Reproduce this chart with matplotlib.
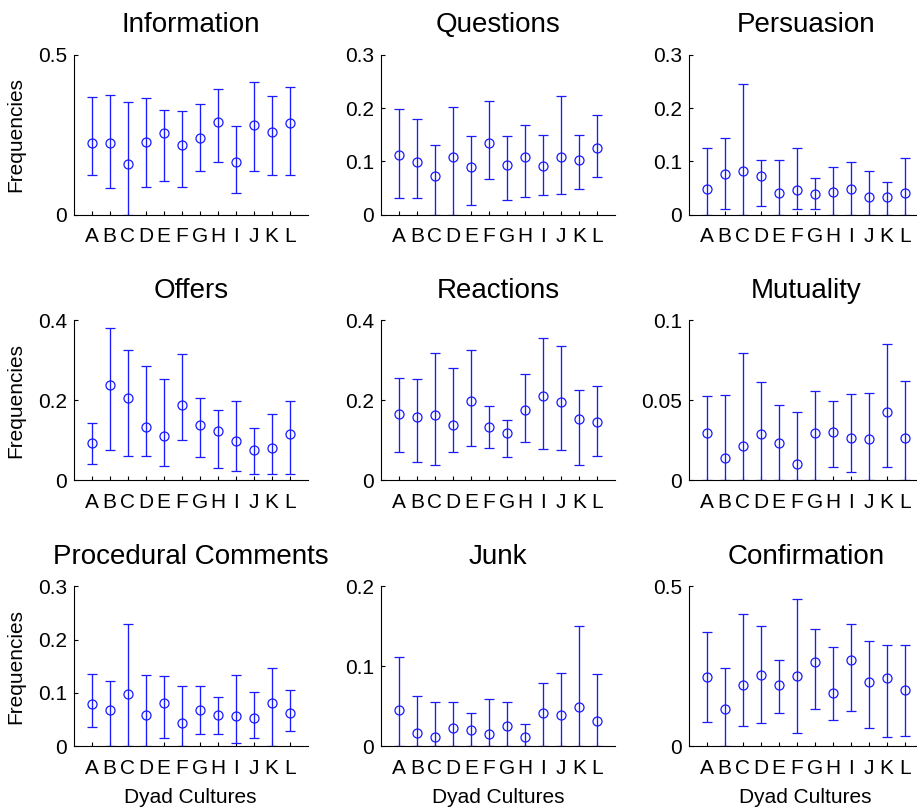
import numpy as np
import matplotlib
matplotlib.use('Agg')
import matplotlib.pyplot as plt

plt.rcParams['font.family'] = ['Liberation Sans', 'DejaVu Sans']

cultures = ['A', 'B', 'C', 'D', 'E', 'F', 'G', 'H', 'I', 'J', 'K', 'L']
titles = ['Information', 'Questions', 'Persuasion',
          'Offers', 'Reactions', 'Mutuality',
          'Procedural Comments', 'Junk', 'Confirmation']
ymax = [0.5, 0.3, 0.3, 0.4, 0.4, 0.1, 0.3, 0.2, 0.5]
yticks = [[0, 0.5], [0, 0.1, 0.2, 0.3], [0, 0.1, 0.2, 0.3],
          [0, 0.2, 0.4], [0, 0.2, 0.4], [0, 0.05, 0.1],
          [0, 0.1, 0.2, 0.3], [0, 0.1, 0.2], [0, 0.5]]
yticklabels = [['0', '0.5'], ['0', '0.1', '0.2', '0.3'], ['0', '0.1', '0.2', '0.3'],
               ['0', '0.2', '0.4'], ['0', '0.2', '0.4'], ['0', '0.05', '0.1'],
               ['0', '0.1', '0.2', '0.3'], ['0', '0.1', '0.2'], ['0', '0.5']]

# mean frequency, lower and upper end of the error bar, per dyad culture
information_mean = [0.223, 0.223, 0.157, 0.226, 0.255, 0.219, 0.241, 0.291, 0.165, 0.281, 0.259, 0.288]
information_lo = [0.125, 0.083, 0.0, 0.087, 0.105, 0.087, 0.137, 0.166, 0.068, 0.137, 0.125, 0.125]
information_hi = [0.367, 0.375, 0.352, 0.364, 0.327, 0.324, 0.346, 0.392, 0.277, 0.414, 0.371, 0.399]

questions_mean = [0.112, 0.099, 0.073, 0.109, 0.090, 0.135, 0.094, 0.109, 0.092, 0.109, 0.103, 0.125]
questions_lo = [0.032, 0.032, 0.0, 0.0, 0.019, 0.067, 0.027, 0.034, 0.036, 0.038, 0.049, 0.071]
questions_hi = [0.199, 0.179, 0.131, 0.201, 0.148, 0.213, 0.148, 0.168, 0.150, 0.223, 0.150, 0.187]

persuasion_mean = [0.049, 0.077, 0.082, 0.073, 0.040, 0.047, 0.038, 0.043, 0.049, 0.034, 0.034, 0.040]
persuasion_lo = [0.0, 0.010, 0.0, 0.017, 0.0, 0.010, 0.010, 0.0, 0.0, 0.0, 0.0, 0.0]
persuasion_hi = [0.125, 0.144, 0.246, 0.103, 0.103, 0.125, 0.069, 0.090, 0.099, 0.081, 0.062, 0.106]

offers_mean = [0.092, 0.238, 0.205, 0.132, 0.109, 0.188, 0.137, 0.123, 0.098, 0.075, 0.080, 0.114]
offers_lo = [0.041, 0.075, 0.060, 0.060, 0.035, 0.100, 0.057, 0.029, 0.023, 0.015, 0.015, 0.015]
offers_hi = [0.142, 0.379, 0.326, 0.286, 0.252, 0.315, 0.205, 0.175, 0.198, 0.129, 0.166, 0.198]

reactions_mean = [0.166, 0.157, 0.163, 0.137, 0.197, 0.132, 0.118, 0.175, 0.211, 0.195, 0.152, 0.146]
reactions_lo = [0.071, 0.046, 0.037, 0.069, 0.086, 0.080, 0.058, 0.095, 0.078, 0.075, 0.037, 0.060]
reactions_hi = [0.254, 0.252, 0.318, 0.280, 0.325, 0.186, 0.149, 0.266, 0.354, 0.335, 0.224, 0.234]

mutuality_mean = [0.0294, 0.0137, 0.0215, 0.0288, 0.0230, 0.0101, 0.0294, 0.0300, 0.0265, 0.0259, 0.0422, 0.0265]
mutuality_lo = [0.0, 0.0, 0.0, 0.0, 0.0, 0.0, 0.0, 0.0081, 0.0052, 0.0, 0.0081, 0.0]
mutuality_hi = [0.0522, 0.0530, 0.0795, 0.0615, 0.0466, 0.0422, 0.0559, 0.0495, 0.0536, 0.0542, 0.0853, 0.0617]

procedural_mean = [0.080, 0.069, 0.099, 0.058, 0.082, 0.043, 0.069, 0.058, 0.056, 0.054, 0.082, 0.0625]
procedural_lo = [0.037, 0.0, 0.0, 0.0, 0.015, 0.0, 0.024, 0.024, 0.007, 0.015, 0.0, 0.028]
procedural_hi = [0.135, 0.123, 0.229, 0.134, 0.131, 0.114, 0.114, 0.093, 0.134, 0.101, 0.146, 0.106]

junk_mean = [0.045, 0.017, 0.012, 0.023, 0.021, 0.016, 0.025, 0.012, 0.042, 0.039, 0.049, 0.032]
junk_lo = [0.0, 0.0, 0.0, 0.0, 0.0, 0.0, 0.0, 0.0, 0.0, 0.0, 0.0, 0.0]
junk_hi = [0.112, 0.063, 0.055, 0.055, 0.042, 0.059, 0.055, 0.0275, 0.079, 0.092, 0.150, 0.090]

confirmation_mean = [0.216, 0.116, 0.191, 0.223, 0.191, 0.220, 0.2625, 0.166, 0.270, 0.201, 0.2125, 0.176]
confirmation_lo = [0.075, 0.0, 0.065, 0.072, 0.104, 0.043, 0.116, 0.083, 0.111, 0.057, 0.029, 0.032]
confirmation_hi = [0.358, 0.244, 0.414, 0.377, 0.270, 0.459, 0.367, 0.309, 0.381, 0.330, 0.316, 0.316]

means = [information_mean, questions_mean, persuasion_mean,
         offers_mean, reactions_mean, mutuality_mean,
         procedural_mean, junk_mean, confirmation_mean]
lows = [information_lo, questions_lo, persuasion_lo,
        offers_lo, reactions_lo, mutuality_lo,
        procedural_lo, junk_lo, confirmation_lo]
highs = [information_hi, questions_hi, persuasion_hi,
         offers_hi, reactions_hi, mutuality_hi,
         procedural_hi, junk_hi, confirmation_hi]

W, H = 917, 811
fig = plt.figure(figsize=(W / 100, H / 100), dpi=100)

# axes boxes in pixels (left edge, top edge)
col_left = [73.7, 381, 688.7]
row_top = [54.7, 320, 586.3]
ax_w, ax_h = 234, 160

x = np.arange(1, len(cultures) + 1)

for k in range(9):
    r, c = divmod(k, 3)
    ax = fig.add_axes([col_left[c] / W, 1 - (row_top[r] + ax_h) / H, ax_w / W, ax_h / H])
    m = np.array(means[k])
    lo = np.array(lows[k])
    hi = np.array(highs[k])
    ax.errorbar(x, m, yerr=[m - lo, hi - m], fmt='o', color='#1a1aff', mfc='none',
                mec='#1a1aff', ms=6.5, mew=0.9, elinewidth=0.95, capsize=3.5, capthick=0.95)
    ax.set_xlim(0, 13)
    ax.set_ylim(0, ymax[k])
    ax.set_xticks(x)
    ax.set_xticklabels(cultures)
    ax.set_yticks(yticks[k])
    ax.set_yticklabels(yticklabels[k])
    for s in ['top', 'right']:
        ax.spines[s].set_visible(False)
    for s in ['left', 'bottom']:
        ax.spines[s].set_linewidth(0.8)
        ax.spines[s].set_zorder(5)
    ax.tick_params(axis='x', direction='in', length=3, width=0.8, labelsize=15, pad=9)
    ax.tick_params(axis='y', direction='in', length=3, width=0.8, labelsize=15, pad=5)
    ax.set_title(titles[k], fontsize=20, pad=16)
    if c == 0:
        ax.set_ylabel('Frequencies', fontsize=15, labelpad=9)
    if r == 2:
        ax.set_xlabel('Dyad Cultures', fontsize=15, labelpad=7)

plt.savefig('out.png', dpi=100)
